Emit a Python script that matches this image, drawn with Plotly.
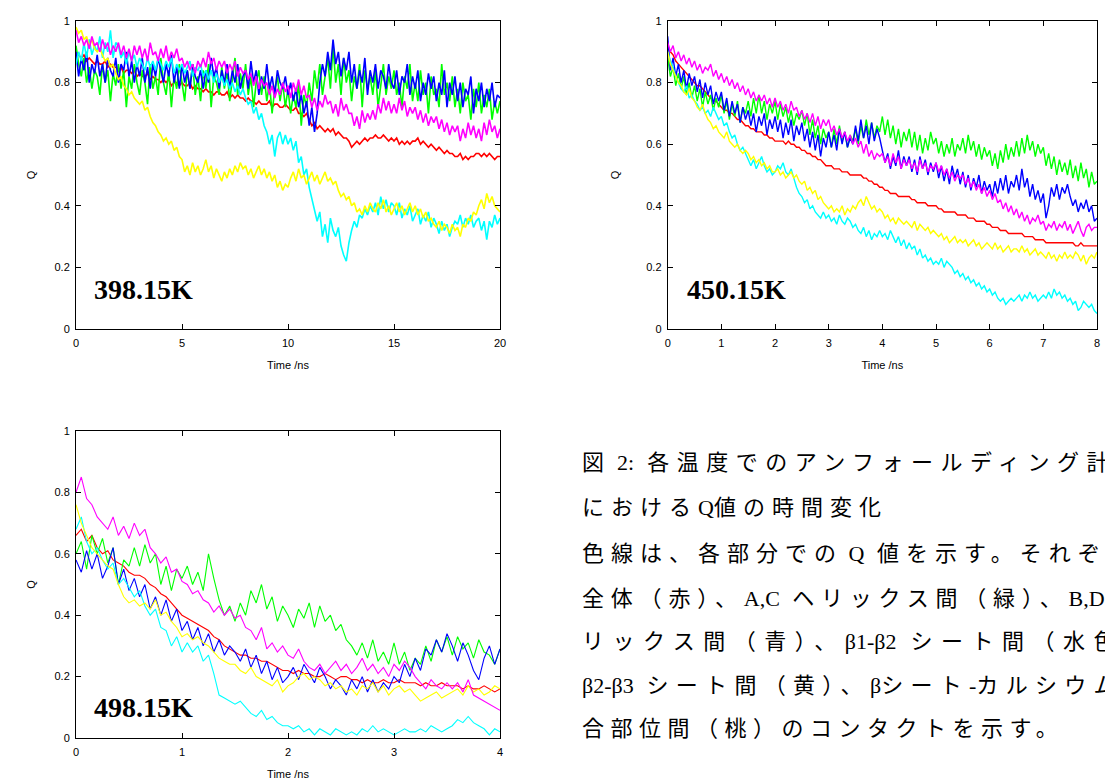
import plotly.graph_objects as go

# ---------------- data (Q values) ----------------
SERIES = ["全体", "A,Cヘリックス間", "B,Dヘリックス間", "β1-β2シート間", "β2-β3シート間", "βシート-カルシウム結合部位間"]
COLORS = ["#ff0000", "#00ff00", "#0000ff", "#00ffff", "#ffff00", "#ff00ff"]

# 398.15 K : t = 0 .. 20 ns, step 0.125 ns (8 values per ns)
T398_START, T398_STEP = 0.0, 0.125
q398_red = [
    0.90,0.89,0.88,0.89,0.87,0.88,0.87,0.86, 0.87,0.86,0.86,0.87,0.85,0.86,0.85,0.85,
    0.84,0.85,0.83,0.84,0.84,0.83,0.84,0.82, 0.83,0.82,0.82,0.83,0.81,0.82,0.81,0.81,
    0.80,0.81,0.80,0.81,0.79,0.80,0.80,0.79, 0.80,0.79,0.79,0.80,0.78,0.79,0.78,0.78,
    0.77,0.78,0.77,0.77,0.76,0.77,0.77,0.76, 0.76,0.77,0.75,0.76,0.75,0.76,0.75,0.75,
    0.74,0.75,0.74,0.74,0.73,0.74,0.73,0.73, 0.73,0.74,0.72,0.73,0.73,0.72,0.72,0.73,
    0.72,0.71,0.71,0.72,0.70,0.70,0.69,0.70, 0.68,0.66,0.67,0.65,0.66,0.65,0.64,0.65,
    0.64,0.65,0.63,0.64,0.63,0.62,0.62,0.61, 0.59,0.60,0.61,0.60,0.61,0.62,0.61,0.62,
    0.62,0.63,0.62,0.62,0.63,0.62,0.61,0.62, 0.61,0.62,0.60,0.61,0.60,0.61,0.60,0.61,
    0.61,0.62,0.60,0.61,0.60,0.59,0.60,0.59, 0.58,0.59,0.58,0.57,0.58,0.57,0.57,0.56,
    0.56,0.57,0.55,0.56,0.55,0.56,0.56,0.57, 0.57,0.56,0.57,0.56,0.57,0.56,0.55,0.56,
    0.56]
q398_green = [
    0.92,0.86,0.82,0.88,0.80,0.85,0.78,0.84, 0.82,0.76,0.86,0.80,0.84,0.74,0.83,0.79,
    0.86,0.78,0.84,0.72,0.82,0.78,0.86,0.80, 0.76,0.84,0.80,0.73,0.86,0.78,0.82,0.76,
    0.88,0.80,0.76,0.84,0.72,0.82,0.78,0.86, 0.80,0.74,0.84,0.78,0.86,0.76,0.82,0.74,
    0.84,0.78,0.86,0.72,0.82,0.80,0.76,0.85, 0.78,0.84,0.74,0.82,0.88,0.76,0.83,0.78,
    0.86,0.76,0.82,0.72,0.80,0.84,0.76,0.82, 0.74,0.80,0.70,0.78,0.82,0.74,0.80,0.72,
    0.78,0.70,0.76,0.72,0.80,0.66,0.76,0.72, 0.80,0.74,0.84,0.78,0.86,0.76,0.82,0.88,
    0.78,0.92,0.80,0.86,0.76,0.88,0.80,0.84, 0.74,0.82,0.78,0.86,0.72,0.84,0.78,0.82,
    0.76,0.84,0.72,0.80,0.86,0.76,0.82,0.78, 0.84,0.76,0.80,0.72,0.82,0.78,0.86,0.74,
    0.80,0.74,0.84,0.76,0.80,0.70,0.82,0.76, 0.78,0.72,0.86,0.76,0.80,0.74,0.82,0.72,
    0.78,0.70,0.80,0.74,0.76,0.68,0.78,0.72, 0.80,0.70,0.76,0.72,0.78,0.68,0.74,0.70,
    0.74]
q398_blue = [
    0.90,0.82,0.88,0.84,0.90,0.80,0.86,0.83, 0.89,0.82,0.86,0.80,0.88,0.84,0.82,0.88,
    0.80,0.86,0.84,0.90,0.82,0.87,0.80,0.86, 0.82,0.88,0.80,0.85,0.78,0.86,0.82,0.88,
    0.84,0.80,0.86,0.82,0.89,0.80,0.85,0.78, 0.86,0.80,0.84,0.78,0.86,0.82,0.80,0.84,
    0.78,0.84,0.80,0.88,0.82,0.85,0.78,0.84, 0.80,0.86,0.78,0.84,0.80,0.86,0.78,0.82,
    0.84,0.78,0.87,0.80,0.84,0.76,0.82,0.78, 0.86,0.78,0.82,0.76,0.84,0.80,0.78,0.82,
    0.76,0.80,0.74,0.78,0.72,0.76,0.70,0.74, 0.66,0.72,0.64,0.70,0.80,0.86,0.82,0.90,
    0.84,0.94,0.86,0.90,0.82,0.88,0.84,0.90, 0.80,0.86,0.78,0.84,0.80,0.88,0.76,0.84,
    0.80,0.86,0.78,0.84,0.82,0.78,0.86,0.80, 0.78,0.84,0.76,0.82,0.80,0.86,0.76,0.82,
    0.78,0.84,0.74,0.80,0.76,0.83,0.78,0.82, 0.74,0.80,0.76,0.84,0.72,0.80,0.76,0.82,
    0.74,0.80,0.72,0.78,0.76,0.82,0.70,0.78, 0.74,0.80,0.72,0.78,0.74,0.80,0.72,0.76,
    0.75]
q398_cyan = [
    0.86,0.90,0.87,0.93,0.88,0.94,0.89,0.92, 0.90,0.95,0.88,0.93,0.90,0.97,0.88,0.93,
    0.92,0.88,0.90,0.86,0.90,0.87,0.89,0.85, 0.88,0.86,0.84,0.88,0.85,0.87,0.84,0.88,
    0.86,0.84,0.87,0.85,0.88,0.83,0.86,0.84, 0.86,0.83,0.85,0.87,0.82,0.85,0.84,0.86,
    0.82,0.84,0.81,0.84,0.80,0.83,0.80,0.82, 0.79,0.81,0.78,0.80,0.77,0.79,0.76,0.78,
    0.75,0.73,0.74,0.70,0.72,0.68,0.70,0.66, 0.64,0.60,0.63,0.56,0.62,0.64,0.60,0.63,
    0.60,0.62,0.58,0.61,0.54,0.56,0.50,0.52, 0.46,0.42,0.38,0.35,0.38,0.30,0.34,0.28,
    0.36,0.32,0.30,0.33,0.27,0.24,0.22,0.28, 0.32,0.35,0.33,0.37,0.36,0.39,0.37,0.40,
    0.38,0.41,0.37,0.43,0.39,0.42,0.38,0.41, 0.40,0.37,0.41,0.36,0.39,0.37,0.40,0.35,
    0.37,0.39,0.34,0.37,0.35,0.38,0.33,0.36, 0.34,0.31,0.35,0.32,0.34,0.30,0.33,0.35,
    0.34,0.37,0.33,0.36,0.34,0.37,0.33,0.35, 0.36,0.32,0.35,0.29,0.35,0.33,0.37,0.34,
    0.36]
q398_yellow = [
    0.98,0.96,0.97,0.94,0.95,0.92,0.94,0.91, 0.90,0.91,0.89,0.87,0.88,0.85,0.86,0.83,
    0.81,0.82,0.79,0.78,0.76,0.77,0.75,0.74, 0.73,0.74,0.71,0.72,0.69,0.67,0.66,0.64,
    0.63,0.61,0.62,0.60,0.61,0.58,0.59,0.56, 0.55,0.51,0.53,0.50,0.54,0.51,0.53,0.50,
    0.52,0.55,0.51,0.53,0.49,0.52,0.50,0.48, 0.51,0.49,0.52,0.50,0.53,0.51,0.54,0.52,
    0.53,0.50,0.52,0.49,0.51,0.53,0.50,0.52, 0.49,0.51,0.48,0.50,0.46,0.48,0.45,0.47,
    0.46,0.49,0.51,0.48,0.52,0.49,0.50,0.47, 0.49,0.51,0.48,0.50,0.47,0.49,0.51,0.48,
    0.49,0.47,0.48,0.45,0.43,0.44,0.42,0.43, 0.40,0.41,0.38,0.39,0.37,0.40,0.38,0.41,
    0.39,0.38,0.41,0.39,0.42,0.38,0.40,0.37, 0.39,0.41,0.38,0.40,0.37,0.39,0.41,0.38,
    0.40,0.37,0.39,0.36,0.38,0.35,0.36,0.34, 0.33,0.35,0.32,0.34,0.33,0.31,0.34,0.32,
    0.33,0.30,0.34,0.33,0.36,0.35,0.38,0.37, 0.40,0.42,0.39,0.44,0.41,0.43,0.40,0.39,
    0.38]
q398_magenta = [
    0.97,0.93,0.95,0.92,0.94,0.91,0.95,0.92, 0.93,0.90,0.94,0.91,0.93,0.89,0.92,0.90,
    0.93,0.89,0.92,0.88,0.91,0.87,0.92,0.89, 0.92,0.88,0.91,0.87,0.93,0.89,0.90,0.87,
    0.91,0.88,0.92,0.87,0.90,0.88,0.91,0.87, 0.88,0.85,0.87,0.84,0.86,0.83,0.87,0.85,
    0.88,0.85,0.90,0.86,0.88,0.84,0.87,0.85, 0.87,0.83,0.86,0.84,0.87,0.82,0.85,0.83,
    0.84,0.81,0.83,0.79,0.82,0.78,0.81,0.79, 0.80,0.76,0.79,0.75,0.78,0.76,0.80,0.77,
    0.79,0.75,0.80,0.77,0.81,0.76,0.79,0.75, 0.76,0.72,0.75,0.71,0.74,0.72,0.76,0.73,
    0.74,0.70,0.73,0.69,0.75,0.71,0.73,0.70, 0.70,0.66,0.69,0.65,0.71,0.67,0.70,0.68,
    0.71,0.68,0.73,0.70,0.75,0.71,0.74,0.70, 0.73,0.70,0.75,0.71,0.74,0.69,0.72,0.70,
    0.72,0.68,0.71,0.67,0.70,0.66,0.69,0.67, 0.69,0.65,0.68,0.64,0.67,0.63,0.66,0.64,
    0.66,0.61,0.65,0.62,0.67,0.63,0.66,0.62, 0.65,0.61,0.67,0.63,0.68,0.64,0.66,0.62,
    0.65]

# 450.15 K : t = 0 .. 8 ns, step 0.05 ns (10 values per half ns)
T450_START, T450_STEP = 0.0, 0.05
q450_red = [
    0.92,0.90,0.89,0.87,0.86,0.85,0.84,0.83,0.82,0.81, 0.80,0.79,0.79,0.78,0.77,0.76,0.75,0.74,0.74,0.73,
    0.72,0.71,0.71,0.70,0.70,0.69,0.68,0.68,0.67,0.66, 0.66,0.65,0.65,0.64,0.64,0.64,0.63,0.63,0.62,0.62,
    0.61,0.61,0.61,0.61,0.60,0.61,0.60,0.60,0.59,0.59, 0.58,0.58,0.57,0.57,0.56,0.56,0.55,0.55,0.54,0.53,
    0.53,0.53,0.52,0.52,0.52,0.51,0.51,0.51,0.50,0.50, 0.50,0.50,0.50,0.49,0.49,0.48,0.48,0.47,0.47,0.46,
    0.46,0.45,0.45,0.44,0.44,0.44,0.43,0.43,0.43,0.43, 0.43,0.42,0.42,0.41,0.41,0.41,0.41,0.40,0.40,0.40,
    0.40,0.39,0.39,0.38,0.38,0.38,0.38,0.38,0.37,0.37, 0.37,0.37,0.36,0.36,0.36,0.35,0.35,0.35,0.35,0.34,
    0.34,0.33,0.33,0.33,0.32,0.32,0.32,0.31,0.31,0.31, 0.31,0.31,0.31,0.30,0.30,0.30,0.30,0.29,0.29,0.29,
    0.29,0.28,0.28,0.28,0.28,0.28,0.28,0.28,0.28,0.28, 0.28,0.28,0.27,0.27,0.28,0.27,0.27,0.27,0.27,0.27,
    0.27]
q450_green = [
    0.88,0.82,0.85,0.79,0.83,0.78,0.82,0.76,0.80,0.75, 0.79,0.74,0.78,0.72,0.77,0.73,0.76,0.71,0.75,0.72,
    0.76,0.70,0.74,0.68,0.73,0.69,0.74,0.67,0.72,0.70, 0.74,0.69,0.75,0.70,0.76,0.70,0.74,0.68,0.73,0.70,
    0.74,0.68,0.73,0.69,0.72,0.67,0.71,0.66,0.70,0.68, 0.71,0.66,0.70,0.63,0.68,0.62,0.66,0.60,0.65,0.62,
    0.64,0.59,0.65,0.60,0.66,0.61,0.64,0.59,0.63,0.61, 0.65,0.60,0.66,0.62,0.68,0.63,0.67,0.62,0.66,0.64,
    0.69,0.63,0.68,0.62,0.66,0.60,0.65,0.59,0.64,0.61, 0.65,0.59,0.64,0.58,0.63,0.57,0.62,0.58,0.64,0.60,
    0.62,0.57,0.61,0.56,0.60,0.57,0.62,0.56,0.60,0.58, 0.62,0.57,0.63,0.58,0.61,0.56,0.60,0.55,0.59,0.56,
    0.58,0.53,0.57,0.52,0.58,0.54,0.60,0.55,0.59,0.56, 0.61,0.56,0.62,0.57,0.63,0.58,0.61,0.56,0.60,0.57,
    0.59,0.53,0.57,0.52,0.56,0.50,0.55,0.51,0.54,0.50, 0.55,0.49,0.53,0.48,0.54,0.49,0.52,0.46,0.51,0.47,
    0.48]
q450_blue = [
    0.95,0.84,0.88,0.82,0.86,0.80,0.84,0.78,0.83,0.79, 0.82,0.77,0.81,0.75,0.80,0.76,0.79,0.73,0.77,0.74,
    0.77,0.71,0.75,0.69,0.74,0.70,0.73,0.67,0.72,0.68, 0.71,0.66,0.70,0.64,0.69,0.66,0.70,0.63,0.68,0.65,
    0.69,0.64,0.68,0.62,0.67,0.63,0.68,0.61,0.66,0.63, 0.67,0.61,0.65,0.59,0.64,0.58,0.63,0.56,0.62,0.59,
    0.64,0.59,0.63,0.58,0.65,0.60,0.64,0.59,0.62,0.60, 0.66,0.61,0.68,0.62,0.66,0.60,0.67,0.61,0.65,0.62,
    0.58,0.54,0.57,0.52,0.56,0.53,0.58,0.52,0.56,0.53, 0.56,0.51,0.55,0.50,0.56,0.52,0.55,0.50,0.54,0.51,
    0.54,0.49,0.53,0.48,0.52,0.47,0.53,0.49,0.52,0.47, 0.51,0.46,0.50,0.45,0.49,0.46,0.50,0.44,0.48,0.45,
    0.47,0.43,0.48,0.44,0.49,0.45,0.50,0.44,0.48,0.46, 0.50,0.45,0.52,0.46,0.49,0.43,0.47,0.42,0.45,0.41,
    0.44,0.36,0.40,0.46,0.43,0.47,0.42,0.46,0.44,0.47, 0.43,0.40,0.42,0.38,0.41,0.39,0.42,0.38,0.40,0.35,
    0.36]
q450_cyan = [
    0.90,0.87,0.85,0.82,0.80,0.78,0.77,0.79,0.75,0.76, 0.74,0.73,0.71,0.72,0.70,0.71,0.69,0.72,0.70,0.68,
    0.69,0.66,0.67,0.64,0.62,0.63,0.60,0.58,0.59,0.57, 0.55,0.53,0.55,0.52,0.54,0.56,0.53,0.51,0.52,0.50,
    0.51,0.53,0.52,0.54,0.51,0.50,0.52,0.49,0.46,0.44, 0.43,0.41,0.42,0.39,0.40,0.38,0.37,0.36,0.38,0.36,
    0.37,0.35,0.36,0.34,0.37,0.35,0.34,0.36,0.35,0.33, 0.34,0.32,0.31,0.33,0.30,0.32,0.29,0.31,0.30,0.32,
    0.30,0.31,0.29,0.32,0.30,0.28,0.30,0.27,0.29,0.26, 0.28,0.26,0.27,0.24,0.26,0.23,0.24,0.22,0.23,0.21,
    0.22,0.21,0.23,0.20,0.22,0.21,0.20,0.18,0.19,0.17, 0.18,0.16,0.17,0.15,0.16,0.14,0.15,0.13,0.14,0.12,
    0.13,0.11,0.12,0.10,0.09,0.10,0.08,0.09,0.10,0.09, 0.10,0.11,0.09,0.11,0.10,0.12,0.10,0.11,0.09,0.10,
    0.11,0.10,0.12,0.10,0.13,0.11,0.12,0.10,0.11,0.09, 0.10,0.08,0.09,0.06,0.07,0.09,0.08,0.07,0.08,0.06,
    0.05]
q450_yellow = [
    0.90,0.86,0.84,0.82,0.80,0.79,0.77,0.76,0.78,0.75, 0.74,0.72,0.71,0.73,0.70,0.68,0.67,0.65,0.66,0.64,
    0.63,0.62,0.64,0.61,0.60,0.59,0.60,0.58,0.57,0.58, 0.57,0.55,0.56,0.54,0.55,0.53,0.54,0.52,0.53,0.51,
    0.51,0.52,0.50,0.51,0.49,0.50,0.51,0.49,0.50,0.48, 0.47,0.48,0.45,0.46,0.44,0.45,0.42,0.43,0.41,0.40,
    0.39,0.40,0.38,0.39,0.38,0.40,0.37,0.39,0.38,0.40, 0.39,0.41,0.42,0.40,0.43,0.41,0.39,0.40,0.38,0.39,
    0.38,0.36,0.37,0.35,0.36,0.34,0.36,0.35,0.34,0.35, 0.34,0.33,0.35,0.32,0.34,0.33,0.32,0.33,0.31,0.32,
    0.31,0.30,0.31,0.29,0.30,0.28,0.29,0.30,0.28,0.29, 0.28,0.29,0.27,0.28,0.29,0.27,0.28,0.26,0.27,0.28,
    0.27,0.26,0.28,0.26,0.27,0.25,0.26,0.27,0.25,0.26, 0.26,0.25,0.27,0.25,0.26,0.24,0.25,0.26,0.24,0.25,
    0.24,0.23,0.25,0.23,0.24,0.22,0.24,0.23,0.25,0.23, 0.24,0.23,0.25,0.24,0.22,0.24,0.21,0.23,0.24,0.23,
    0.25]
q450_magenta = [
    0.93,0.90,0.92,0.88,0.90,0.87,0.89,0.86,0.88,0.85, 0.87,0.84,0.86,0.83,0.85,0.84,0.86,0.82,0.84,0.81,
    0.83,0.80,0.82,0.79,0.81,0.78,0.80,0.77,0.79,0.76, 0.78,0.75,0.77,0.74,0.76,0.74,0.76,0.73,0.75,0.72,
    0.75,0.72,0.74,0.71,0.73,0.70,0.74,0.71,0.72,0.69, 0.71,0.68,0.70,0.67,0.70,0.66,0.69,0.65,0.68,0.66,
    0.68,0.64,0.66,0.63,0.65,0.62,0.64,0.61,0.63,0.60, 0.62,0.59,0.61,0.57,0.60,0.56,0.58,0.55,0.57,0.56,
    0.57,0.54,0.56,0.53,0.57,0.54,0.56,0.52,0.55,0.53, 0.55,0.52,0.54,0.51,0.55,0.52,0.54,0.51,0.53,0.52,
    0.54,0.51,0.53,0.50,0.52,0.49,0.51,0.48,0.50,0.49, 0.50,0.47,0.49,0.46,0.48,0.45,0.47,0.44,0.46,0.43,
    0.45,0.42,0.44,0.41,0.42,0.39,0.41,0.38,0.40,0.37, 0.39,0.36,0.38,0.35,0.37,0.34,0.36,0.35,0.37,0.34,
    0.35,0.32,0.34,0.33,0.35,0.32,0.34,0.33,0.35,0.32, 0.34,0.31,0.33,0.35,0.32,0.30,0.33,0.34,0.32,0.33,
    0.33]

# 498.15 K : t = 0 .. 4 ns, step 0.05 ns
T498_START, T498_STEP = 0.0, 0.05
q498_red = [0.66,0.68,0.64,0.66,0.62,0.60,0.61,0.58,0.57,0.56,0.54,
            0.53,0.53,0.52,0.50,0.49,0.47,0.46,0.44,0.42,0.40,
            0.39,0.38,0.37,0.36,0.35,0.33,0.32,0.30,0.29,0.28,
            0.27,0.27,0.26,0.26,0.25,0.25,0.24,0.23,0.22,0.22,
            0.21,0.22,0.21,0.21,0.20,0.20,0.21,0.20,0.19,0.20,
            0.20,0.19,0.19,0.18,0.19,0.18,0.18,0.19,0.18,0.18,
            0.19,0.18,0.18,0.18,0.17,0.18,0.17,0.17,0.18,0.17,
            0.17,0.17,0.16,0.17,0.16,0.16,0.17,0.16,0.15,0.16]
q498_green = [0.60,0.64,0.55,0.66,0.60,0.65,0.57,0.62,0.50,0.58,0.56,
              0.62,0.56,0.63,0.57,0.60,0.50,0.56,0.48,0.55,0.52,
              0.56,0.50,0.54,0.48,0.60,0.52,0.45,0.40,0.43,0.38,
              0.44,0.40,0.48,0.44,0.50,0.42,0.46,0.38,0.43,0.40,
              0.36,0.42,0.39,0.44,0.36,0.43,0.38,0.40,0.35,0.37,
              0.32,0.30,0.27,0.31,0.26,0.32,0.25,0.28,0.24,0.31,
              0.24,0.28,0.22,0.26,0.24,0.30,0.25,0.32,0.28,0.33,
              0.27,0.33,0.29,0.31,0.26,0.32,0.28,0.27,0.24,0.29]
q498_blue = [0.58,0.54,0.61,0.55,0.60,0.52,0.56,0.62,0.50,0.55,0.48,
             0.52,0.46,0.50,0.42,0.46,0.40,0.45,0.38,0.42,0.35,
             0.38,0.32,0.36,0.30,0.34,0.28,0.32,0.27,0.30,0.28,
             0.25,0.29,0.23,0.27,0.21,0.25,0.19,0.23,0.18,0.20,
             0.23,0.19,0.24,0.21,0.18,0.23,0.20,0.16,0.19,0.17,
             0.14,0.19,0.16,0.20,0.15,0.19,0.15,0.18,0.16,0.20,
             0.18,0.24,0.20,0.26,0.22,0.29,0.27,0.32,0.28,0.34,
             0.30,0.25,0.31,0.27,0.22,0.19,0.26,0.30,0.24,0.29]
q498_cyan = [0.68,0.72,0.64,0.60,0.62,0.58,0.55,0.57,0.50,0.52,0.49,
             0.46,0.48,0.43,0.40,0.42,0.36,0.35,0.30,0.33,0.28,
             0.31,0.28,0.30,0.25,0.27,0.21,0.14,0.13,0.12,0.11,
             0.12,0.10,0.08,0.07,0.09,0.06,0.07,0.05,0.04,0.04,
             0.03,0.04,0.02,0.03,0.01,0.03,0.02,0.01,0.03,0.02,
             0.01,0.02,0.01,0.03,0.02,0.04,0.02,0.03,0.02,0.01,
             0.02,0.03,0.02,0.02,0.03,0.02,0.04,0.03,0.02,0.03,
             0.04,0.06,0.05,0.07,0.05,0.04,0.03,0.01,0.03,0.02]
q498_yellow = [0.76,0.70,0.66,0.62,0.60,0.58,0.56,0.55,0.50,0.46,0.44,
               0.45,0.43,0.44,0.42,0.45,0.40,0.41,0.38,0.36,0.33,
               0.34,0.32,0.33,0.31,0.30,0.28,0.26,0.25,0.24,0.24,
               0.22,0.21,0.23,0.20,0.19,0.18,0.17,0.19,0.15,0.17,
               0.18,0.20,0.21,0.19,0.20,0.19,0.17,0.18,0.16,0.17,
               0.15,0.16,0.14,0.17,0.16,0.18,0.15,0.17,0.14,0.16,
               0.17,0.15,0.16,0.14,0.12,0.13,0.14,0.15,0.13,0.14,
               0.15,0.16,0.14,0.17,0.15,0.16,0.14,0.15,0.17,0.16]
q498_magenta = [0.80,0.85,0.78,0.76,0.72,0.70,0.68,0.72,0.66,0.69,0.65,
                0.70,0.66,0.68,0.62,0.60,0.57,0.59,0.54,0.55,0.51,
                0.50,0.47,0.48,0.45,0.44,0.41,0.43,0.40,0.42,0.39,
                0.40,0.36,0.35,0.32,0.36,0.29,0.31,0.28,0.30,0.27,
                0.26,0.29,0.25,0.23,0.22,0.24,0.21,0.23,0.25,0.22,
                0.24,0.21,0.23,0.26,0.22,0.24,0.21,0.23,0.20,0.24,
                0.22,0.25,0.23,0.20,0.18,0.16,0.19,0.17,0.16,0.18,
                0.16,0.18,0.15,0.19,0.14,0.13,0.12,0.11,0.10,0.09]

PANELS = [
    ("398.15K", T398_START, T398_STEP, 20, 5,
     [q398_red, q398_green, q398_blue, q398_cyan, q398_yellow, q398_magenta]),
    ("450.15K", T450_START, T450_STEP, 8, 1,
     [q450_red, q450_green, q450_blue, q450_cyan, q450_yellow, q450_magenta]),
    ("498.15K", T498_START, T498_STEP, 4, 1,
     [q498_red, q498_green, q498_blue, q498_cyan, q498_yellow, q498_magenta]),
]

CAPTION = [
    "図 2: 各温度でのアンフォールディング計算",
    "におけるQ値の時間変化",
    "色線は、各部分での Q 値を示す。それぞれ",
    "全体（赤）、A,C ヘリックス間（緑）、B,D ヘ",
    "リックス間（青）、β1-β2 シート間（水色）、",
    "β2-β3 シート間（黄）、βシート-カルシウム結",
    "合部位間（桃）のコンタクトを示す。",
]

# ---------------- layout geometry ----------------
# The page body has an 8px margin, so figure pixel = page pixel - 8.
OFF = 8
W, H = 1105, 772
def px_x(a, b):
    return [(a - OFF) / W, (b - OFF) / W]
def px_y(top, bottom):
    return [1 - (bottom - OFF) / H, 1 - (top - OFF) / H]

DOMAINS = [
    (px_x(76, 500), px_y(21, 329)),
    (px_x(667.7, 1097), px_y(21, 329)),
    (px_x(76, 500), px_y(431, 738)),
]
LABEL_POS = [(0.75, 0.127), (0.32, 0.127), (0.15, 0.098)]
Q_STANDOFF = [16, 24, 16]
LINE_W = [1.6, 1.4, 1.1]

fig = go.Figure()
axis_font = dict(family="Liberation Sans, Arial, sans-serif", size=11, color="#000000")

for i, (label, t0, dt, xmax, xdt, series) in enumerate(PANELS):
    n = "" if i == 0 else str(i + 1)
    for name, color, q in zip(SERIES, COLORS, series):
        fig.add_trace(go.Scatter(
            x0=t0, dx=dt, y=q, mode="lines", name=name,
            line=dict(color=color, width=LINE_W[i]),
            xaxis="x" + n, yaxis="y" + n, showlegend=False, hoverinfo="skip"))
    xd, yd = DOMAINS[i]
    fig.layout["xaxis" + n] = dict(
        domain=xd, anchor="y" + n, range=[0, xmax], dtick=xdt, tick0=0,
        automargin=False,
        showgrid=False, zeroline=False, showline=True, linecolor="#000000",
        linewidth=1, mirror="allticks", ticks="inside", ticklen=5,
        tickcolor="#000000", tickfont=axis_font, ticklabelstandoff=4,
        title=dict(text="Time /ns", font=axis_font, standoff=13))
    fig.layout["yaxis" + n] = dict(
        domain=yd, anchor="x" + n, range=[0, 1], dtick=0.2, tick0=0,
        automargin=False,
        showgrid=False, zeroline=False, showline=True, linecolor="#000000",
        linewidth=1, mirror="allticks", ticks="inside", ticklen=5,
        tickcolor="#000000", tickfont=axis_font, ticklabelstandoff=3,
        title=dict(text="Q", font=axis_font, standoff=Q_STANDOFF[i]))
    lx, ly = LABEL_POS[i]
    fig.add_annotation(
        x=lx, y=ly, xref="x" + n, yref="y" + n, text="<b>%s</b>" % label,
        showarrow=False, xanchor="left", yanchor="middle",
        font=dict(family="Liberation Serif, Times New Roman, serif", size=28, color="#000000"))


def spaced(line, sp):
    """Wrap runs of full-width (CJK) characters in a letter-spaced span;
    Latin runs stay unspaced; a space before a CJK run goes inside its span."""
    out, run, is_cjk = [], "", None
    for ch in line:
        c = ord(ch) >= 0x2E80
        if is_cjk is None or c == is_cjk:
            run += ch
        else:
            out.append([run, is_cjk])
            run = ch
        is_cjk = c
    out.append([run, is_cjk])
    # move trailing spaces of Latin runs into the following CJK run
    for k in range(len(out) - 1):
        txt, c = out[k]
        if not c and txt.endswith(" "):
            stripped = txt.rstrip(" ")
            out[k + 1][0] = " " * (len(txt) - len(stripped)) + out[k + 1][0]
            out[k][0] = stripped
    html = ""
    for txt, c in out:
        txt = txt.replace(" ", "\u00a0")
        if not txt:
            continue
        if c:
            html += '<span style="letter-spacing:%gpx">%s</span>' % (sp, txt)
        else:
            html += txt
    return html


LINE_Y = [462, 507, 553, 598, 641, 685, 728]
LETTER_SP = [7.5, 7, 7, 6.8, 8.5, 7.3, 6.5]
for txt, yy, sp in zip(CAPTION, LINE_Y, LETTER_SP):
    fig.add_annotation(
        x=(580 - OFF) / W, y=1 - (yy - OFF) / H, xref="paper", yref="paper",
        text=spaced(txt, sp),
        showarrow=False, xanchor="left", yanchor="middle", align="left",
        font=dict(family="Liberation Serif, Noto Sans CJK JP, serif", size=22, color="#000000"))

fig.update_layout(
    width=W, height=H, margin=dict(l=0, r=0, t=0, b=0, autoexpand=False),
    paper_bgcolor="#ffffff", plot_bgcolor="#ffffff",
    showlegend=False, hovermode=False)

fig.write_html("out.html", config={"displayModeBar": False})
